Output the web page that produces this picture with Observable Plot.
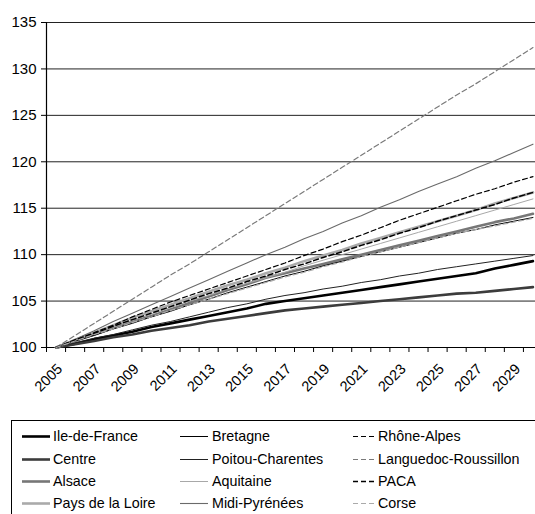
<!DOCTYPE html>
<html><head><meta charset="utf-8">
<script src="https://cdn.jsdelivr.net/npm/d3@7"></script>
<script src="https://cdn.jsdelivr.net/npm/@observablehq/plot@0.6"></script>
<style>
body{margin:0;background:#fff;font-family:"Liberation Sans",Arial,sans-serif;}
#wrap{position:relative;width:535px;height:514px;overflow:hidden;background:#fff;}
#chart{position:absolute;left:0;top:0;}
#legend{position:absolute;left:11px;top:420px;width:600px;height:120px;border:1.5px solid #000;box-sizing:border-box;}
.item{position:absolute;height:20px;line-height:20px;font-size:14.3px;color:#000;white-space:nowrap;}
.item svg{position:absolute;top:0;}
</style></head><body><div id="wrap"><div id="chart"></div><div id="legend"></div></div>
<script>
const years = [2005,2006,2007,2008,2009,2010,2011,2012,2013,2014,2015,2016,2017,2018,2019,2020,2021,2022,2023,2024,2025,2026,2027,2028,2029,2030];
const tickYears = [2005,2007,2009,2011,2013,2015,2017,2019,2021,2023,2025,2027,2029];
const yTicks = [100,105,110,115,120,125,130,135];

const ileDeFrance = [100,100.4,100.9,101.3,101.7,102.2,102.6,103.0,103.4,103.8,104.2,104.7,105.0,105.3,105.6,105.9,106.2,106.5,106.8,107.1,107.4,107.7,108.0,108.5,108.9,109.3];
const centre = [100,100.35,100.7,101.1,101.4,101.8,102.1,102.4,102.8,103.1,103.4,103.7,104.0,104.2,104.4,104.6,104.8,105.0,105.2,105.4,105.6,105.8,105.9,106.1,106.3,106.5];
const alsace = [100,100.7,101.4,102.1,102.8,103.4,104.1,104.8,105.5,106.2,106.8,107.5,108.0,108.5,109.0,109.5,110.0,110.5,111.0,111.5,112.0,112.5,113.0,113.5,113.9,114.4];
const paysDeLaLoire = [100,100.8,101.6,102.4,103.2,103.9,104.6,105.3,106.0,106.7,107.3,108.0,108.6,109.3,109.9,110.5,111.2,111.8,112.4,113.0,113.6,114.2,114.8,115.5,116.1,116.7];
const bretagne = [100,100.7,101.3,102.0,102.6,103.3,103.9,104.6,105.2,105.9,106.5,107.1,107.7,108.2,108.8,109.3,109.8,110.3,110.8,111.3,111.8,112.3,112.7,113.2,113.6,114.0];
const poitouCharentes = [100,100.5,101.0,101.4,101.9,102.4,102.8,103.3,103.8,104.3,104.7,105.2,105.6,105.9,106.3,106.6,107.0,107.3,107.7,108.0,108.4,108.7,109.0,109.3,109.6,109.9];
const aquitaine = [100,100.8,101.5,102.2,102.9,103.6,104.3,105.0,105.6,106.3,106.9,107.5,108.1,108.8,109.4,110.0,110.6,111.2,111.8,112.4,113.0,113.6,114.2,114.8,115.4,116.0];
const midiPyrenees = [100,100.9,101.8,102.8,103.7,104.6,105.5,106.4,107.3,108.2,109.1,110.0,110.8,111.7,112.5,113.4,114.2,115.1,115.9,116.8,117.6,118.4,119.3,120.1,121.0,121.9];
const rhoneAlpes = [100,100.8,101.6,102.4,103.3,104.1,104.9,105.6,106.3,107.0,107.7,108.4,109.1,109.9,110.6,111.4,112.1,112.9,113.7,114.4,115.1,115.8,116.5,117.1,117.8,118.4];
const languedocRoussillon = [100,101.3,102.6,103.9,105.2,106.5,107.8,109.0,110.3,111.6,112.9,114.2,115.5,116.8,118.1,119.4,120.7,122.0,123.3,124.6,125.9,127.2,128.4,129.7,131.0,132.3];
const paca = [100,100.8,101.5,102.3,103.0,103.7,104.4,105.1,105.8,106.4,107.1,107.7,108.4,109.0,109.7,110.3,111.0,111.6,112.3,112.9,113.6,114.2,114.8,115.4,116.1,116.7];
const corse = [100,100.7,101.4,102.0,102.7,103.3,104.0,104.6,105.2,105.8,106.4,107.0,107.6,108.1,108.7,109.2,109.8,110.3,110.8,111.3,111.8,112.3,112.7,113.1,113.5,113.9];

const seriesNames = ["Ile-de-France","Centre","Alsace","Pays de la Loire","Bretagne","Poitou-Charentes","Aquitaine","Midi-Pyrénées","Rhône-Alpes","Languedoc-Roussillon","PACA","Corse"];
const seriesValues = [ileDeFrance,centre,alsace,paysDeLaLoire,bretagne,poitouCharentes,aquitaine,midiPyrenees,rhoneAlpes,languedocRoussillon,paca,corse];
const seriesStyles = [
  {stroke:"#000",strokeWidth:2.6},
  {stroke:"#3c3c3c",strokeWidth:2.6},
  {stroke:"#777",strokeWidth:2.6},
  {stroke:"#aaa",strokeWidth:2.6},
  {stroke:"#000",strokeWidth:1},
  {stroke:"#222",strokeWidth:1},
  {stroke:"#a8a8a8",strokeWidth:1},
  {stroke:"#6a6a6a",strokeWidth:1.1},
  {stroke:"#000",strokeWidth:1.2,strokeDasharray:"5,3"},
  {stroke:"#7a7a7a",strokeWidth:1.2,strokeDasharray:"5,3"},
  {stroke:"#000",strokeWidth:1.5,strokeDasharray:"5,3"},
  {stroke:"#aaa",strokeWidth:1.2,strokeDasharray:"5,3"}
];

const edges = years.map(y => y - 0.5).concat([years[years.length-1] + 0.5]);

const marks = [
  Plot.ruleY(yTicks.filter(v => v > 100), {y: d => d, stroke: "#222", strokeWidth: 1}),
  Plot.axisY({ticks: yTicks, tickSize: 5, tickPadding: 5, fontSize: 15, tickFormat: d => String(d), stroke:"#000"}),
  Plot.axisX({ticks: edges, tickSize: 5, tickFormat: () => "", stroke:"#000"}),
  Plot.text(tickYears, {x: d => d, y: () => 100, text: d => String(d), rotate: -45, textAnchor: "end", dx: 4, dy: 19, fontSize: 14.5, fill: "#000"}),
  Plot.ruleX([edges[0]], {y1: 100, y2: 135, stroke: "#000", strokeWidth: 1.2}),
  Plot.ruleY([100], {stroke: "#000", strokeWidth: 1.2})
];
seriesValues.forEach((vals, k) => {
  marks.push(Plot.line(vals, {x: (d, i) => years[i], y: d => d, ...seriesStyles[k]}));
});

const chart = Plot.plot({
  width: 535, height: 400,
  marginTop: 22, marginBottom: 53, marginLeft: 46, marginRight: 0,
  x: {domain: [edges[0], edges[edges.length-1]], range: [46, 542]},
  y: {domain: [100, 135]},
  style: {fontFamily: "'Liberation Sans', Arial, sans-serif", fontSize: "14px", background: "#fff", color: "#000", overflow: "visible"},
  marks
});
document.getElementById("chart").appendChild(chart);

// legend
const legend = document.getElementById("legend");
const colX = [{sx: 10, sw: 28, tx: 41}, {sx: 168, sw: 28, tx: 200}, {sx: 341, sw: 23, tx: 366}];
const rowY = [5, 28, 50, 72];
seriesNames.forEach((name, k) => {
  const col = Math.floor(k / 4), row = k % 4;
  const st = seriesStyles[k];
  const div = document.createElement("div");
  div.className = "item";
  div.style.left = colX[col].sx + "px";
  div.style.top = rowY[row] + "px";
  const sw = colX[col].sw;
  div.innerHTML = `<svg width="${sw}" height="20" style="left:0"><line x1="0" x2="${sw}" y1="10.5" y2="10.5" stroke="${st.stroke}" stroke-width="${st.strokeWidth}" ${st.strokeDasharray ? `stroke-dasharray="5,3"` : ""}/></svg><span style="position:absolute;left:${colX[col].tx - colX[col].sx}px;top:0">${name}</span>`;
  legend.appendChild(div);
});
</script></body></html>
